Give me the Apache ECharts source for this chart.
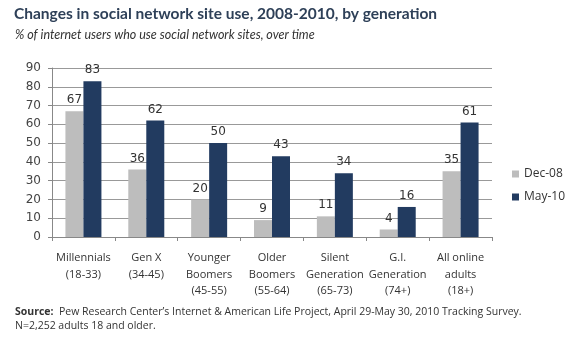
<!DOCTYPE html>
<html><head><meta charset="utf-8">
<script src="https://cdn.jsdelivr.net/npm/echarts@6/dist/echarts.min.js"></script>
<style>html,body{margin:0;padding:0;background:#fff}#c{width:566px;height:342px}</style>
</head><body><div id="c"></div>
<script>
const categories = ["Millennials\n(18-33)","Gen X\n(34-45)","Younger\nBoomers\n(45-55)","Older\nBoomers\n(55-64)","Silent\nGeneration\n(65-73)","G.I.\nGeneration\n(74+)","All online\nadults\n(18+)"];
const dec08 = [67,36,20,9,11,4,35];
const may10 = [83,62,50,43,34,16,61];
const yTicks = {min:0,max:90,interval:10};

const chart = echarts.init(document.getElementById('c'));
const lbl = {show:true,position:'top',distance:5,color:'#333',fontSize:12,fontFamily:'DejaVu Sans'};
chart.setOption({
  animation:false,
  title:[
    {text:'Changes in social network site use, 2008-2010, by generation',left:9,top:1,
     textStyle:{fontFamily:'Lato',fontWeight:'bold',fontSize:15.5,color:'#2e4058'}},
    {text:'% of internet users who use social network sites, over time',left:10,top:23,
     textStyle:{fontFamily:'Lato',fontStyle:'italic',fontWeight:'normal',fontSize:12.5,color:'#333'}},
    {text:'{b|Source:}  Pew Research Center\u2019s Internet & American Life Project, April 29-May 30, 2010 Tracking Survey.\nN=2,252 adults 18 and older.',left:10,top:300,
     textStyle:{fontFamily:'Open Sans',fontWeight:'normal',fontSize:10.5,color:'#333',lineHeight:14,
       rich:{b:{fontWeight:'bold',fontFamily:'Open Sans',fontSize:10.5,color:'#333'}}}}
  ],
  legend:{orient:'vertical',left:507,top:163,itemWidth:7,itemHeight:7,itemGap:11,
    textStyle:{fontFamily:'Open Sans',fontSize:12,color:'#333'},
    data:['Dec-08','May-10'],icon:'rect'},
  grid:{left:52,right:74,top:68,bottom:105},
  xAxis:{type:'category',data:categories,
    axisLine:{lineStyle:{color:'#888'}},axisTick:{show:true,length:4,lineStyle:{color:'#888'}},
    axisLabel:{interval:0,color:'#333',fontFamily:'Open Sans',fontSize:11,lineHeight:16.5,margin:13}},
  yAxis:{type:'value',min:yTicks.min,max:yTicks.max,interval:yTicks.interval,
    axisLine:{show:true,lineStyle:{color:'#888'}},axisTick:{show:true,length:4,lineStyle:{color:'#888'}},
    axisLabel:{color:'#444',fontFamily:'DejaVu Sans',fontSize:12,margin:11},
    splitLine:{lineStyle:{color:'#999'}}},
  series:[
    {name:'Dec-08',type:'bar',data:dec08,itemStyle:{color:'#bdbdbd'},barWidth:18,barGap:'0%',label:lbl},
    {name:'May-10',type:'bar',data:may10,itemStyle:{color:'#223b60'},barWidth:18,label:lbl}
  ]
});
</script></body></html>
